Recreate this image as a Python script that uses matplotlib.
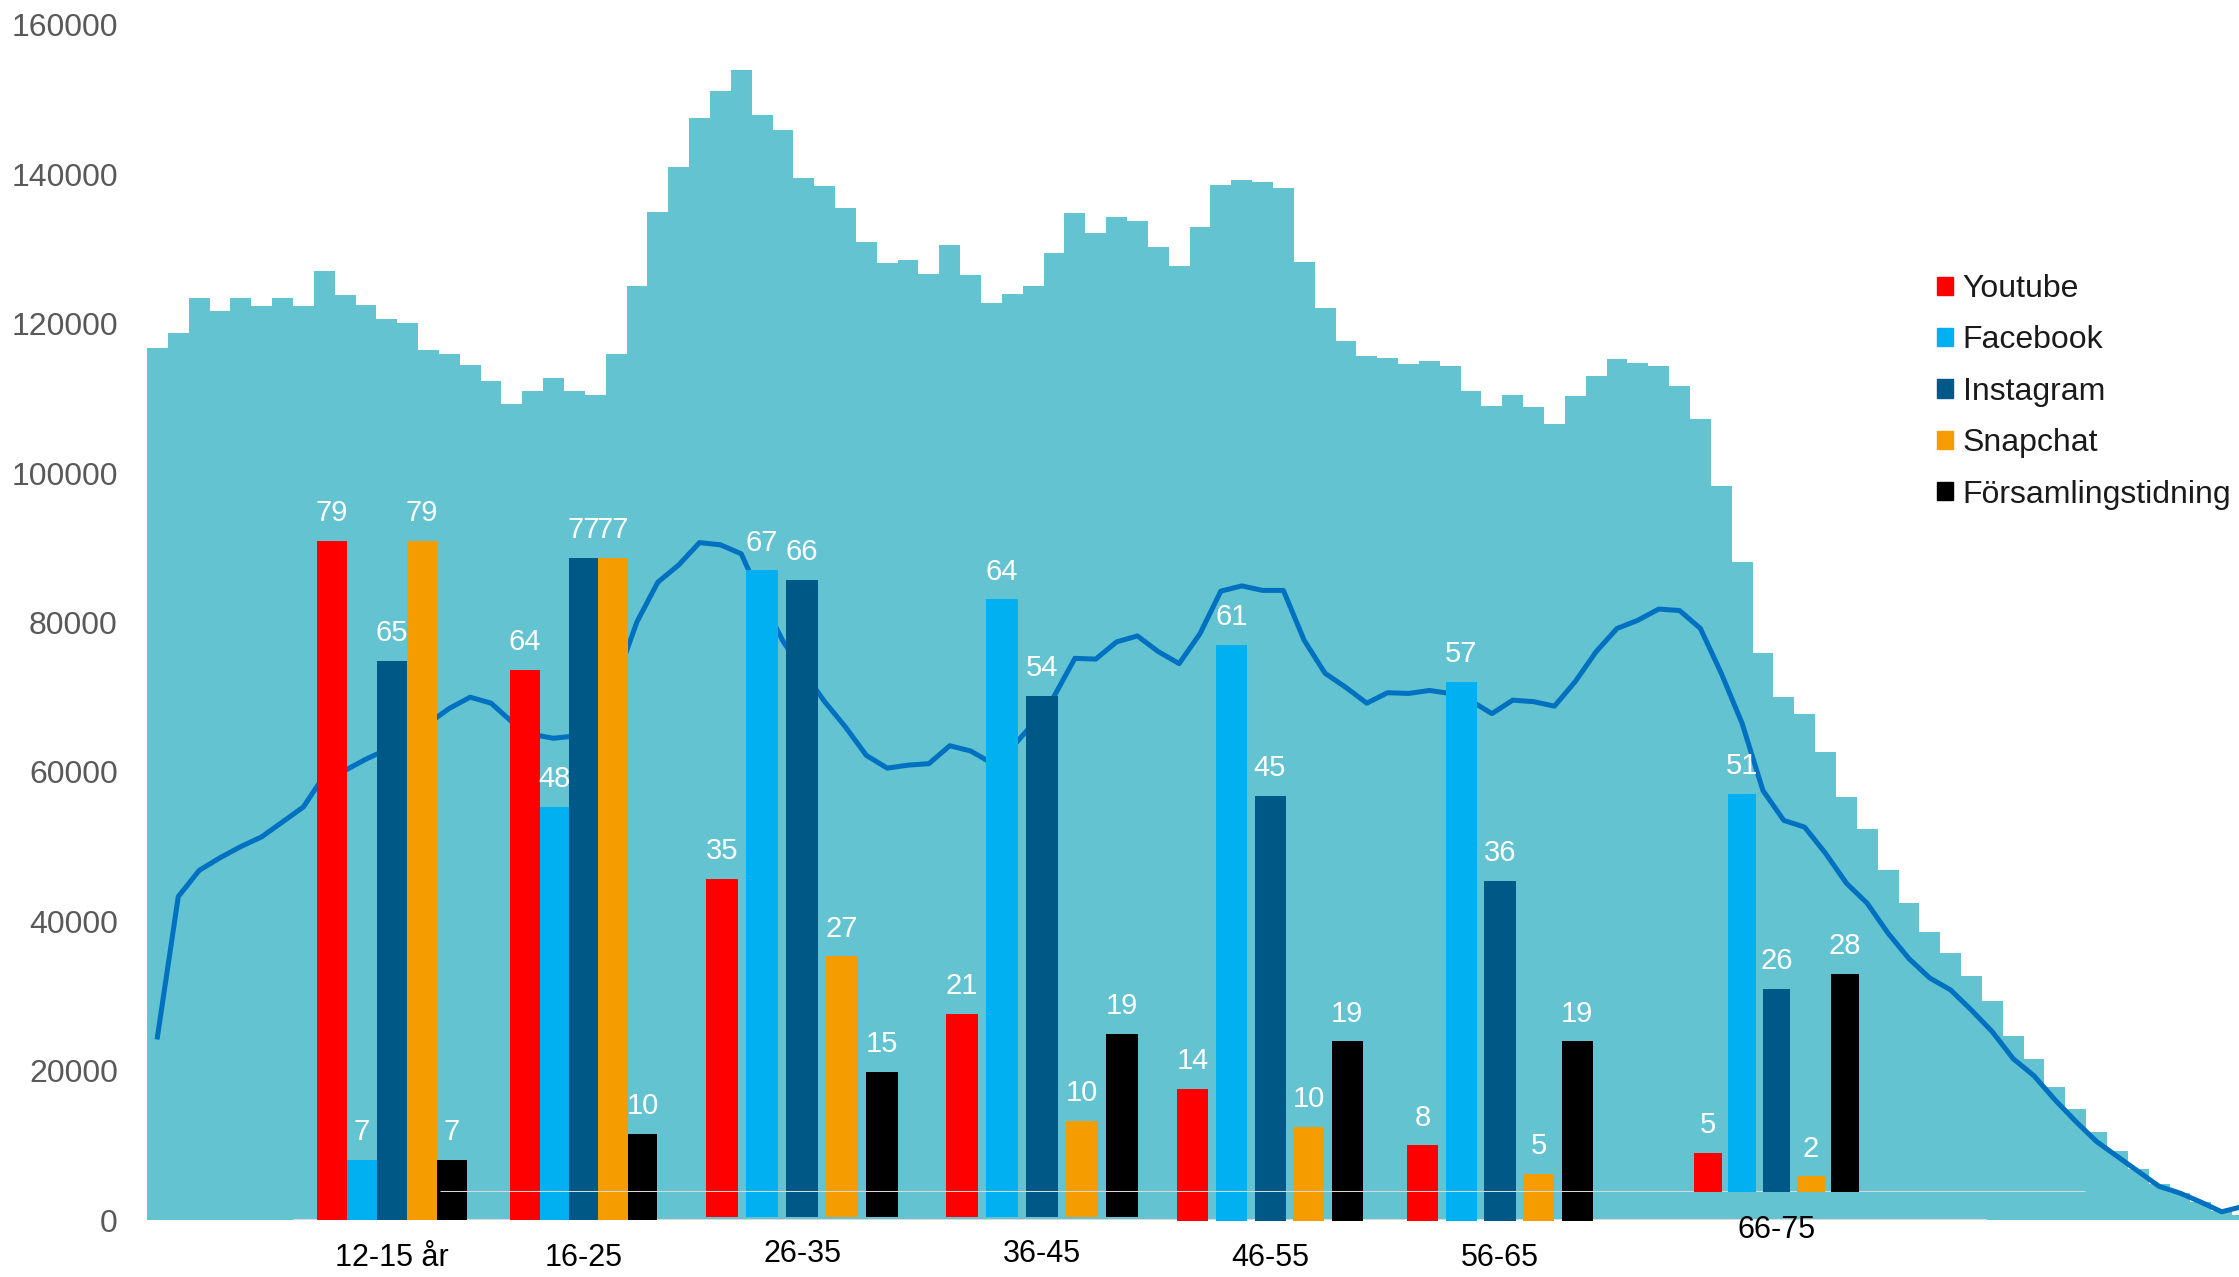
import numpy as np
import matplotlib
matplotlib.use("Agg")
import matplotlib.pyplot as plt
from matplotlib.patches import Patch

plt.rcParams['font.family'] = ['Liberation Sans', 'DejaVu Sans']

# population per age (0-100) - background area
ages = np.arange(0, 101)
population = [
    116800, 118700, 123500, 121700, 123500, 122400, 123500, 122400, 127000, 123800,
    122500, 120700, 120100, 116500, 116000, 114500, 112300, 109300, 111000, 112700,
    111000, 110500, 116000, 125000, 135000, 141000, 147500, 151200, 154000, 148000,
    146000, 139500, 138500, 135500, 131000, 128200, 128500, 126600, 130500, 126500,
    122800, 124000, 125000, 129500, 134800, 132200, 134300, 133700, 130300, 127700,
    132900, 138600, 139300, 139000, 138200, 128300, 122100, 117700, 115700, 115400,
    114600, 115000, 114400, 111000, 109000, 110500, 108900, 106600, 110300, 113000,
    115300, 114800, 114300, 111600, 107200, 98300, 88100, 75900, 70000, 67800,
    62600, 56700, 52300, 46900, 42400, 38600, 35800, 32700, 29300, 24600,
    21600, 17800, 14800, 11800, 9300, 6800, 4800, 3650, 2400, 1200,
    700,
]
# second series per age - line
line_vals = [
    24500, 43300, 46800, 48500, 50000, 51300, 53300, 55300, 59500, 60200,
    61700, 63000, 64500, 66500, 68500, 70000, 69200, 66700, 65000, 64500,
    64800, 68000, 72300, 80100, 85400, 87700, 90700, 90400, 89200, 83000,
    77500, 73300, 69400, 66000, 62200, 60500, 60900, 61100, 63500, 62800,
    61200, 63300, 66500, 70100, 75200, 75100, 77400, 78200, 76100, 74500,
    78500, 84200, 84900, 84300, 84300, 77600, 73200, 71300, 69200, 70600,
    70500, 70900, 70500, 69500, 67800, 69600, 69400, 68800, 72100, 76100,
    79200, 80300, 81800, 81600, 79200, 73200, 66500, 57500, 53500, 52600,
    49100, 45100, 42400, 38400, 35000, 32400, 30800, 28100, 25200, 21600,
    19300, 16100, 13200, 10500, 8500, 6500, 4500, 3600, 2400, 1100,
    1800,
]

# survey: share (%) per age group and channel
groups = ["12-15 år", "16-25", "26-35", "36-45", "46-55", "56-65", "66-75"]
series = ["Youtube", "Facebook", "Instagram", "Snapchat", "Församlingstidning"]
youtube = [79, 64, 35, 21, 14, 8, 5]
facebook = [7, 48, 67, 64, 61, 57, 51]
instagram = [65, 77, 66, 54, 45, 36, 26]
snapchat = [79, 77, 27, 10, 10, 5, 2]
forsamling = [7, 10, 15, 19, 19, 19, 28]
colors = ["#FF0000", "#00B0F0", "#005886", "#F49C00", "#000000"]

# layout of each pasted group (age-axis centre, pitch, bar width, baseline px, px per %)
g_center = [11.23, 20.44, 30.92, 42.43, 53.36, 64.39, 77.65]
g_pitch = [1.44, 1.41, 1.92, 1.92, 1.85, 1.85, 1.645]
g_width = [1.44, 1.41, 1.535, 1.535, 1.49, 1.49, 1.34]
g_base = [1220, 1220, 1217, 1217, 1221, 1221, 1192]
g_scale = [8.6, 8.6, 9.65, 9.65, 9.45, 9.45, 7.8]

W, H = 2239, 1277
fig = plt.figure(figsize=(W / 100, H / 100), dpi=100)
left, bottom = 147 / W, (H - 1220) / H
ax = fig.add_axes([left, bottom, 1 - left, 1195 / H])

ax.bar(ages, population, width=1.0, color="#64C3D0", linewidth=0)
ax.plot(ages, line_vals, color="#0070C0", lw=3.6)
ax.set_xlim(-0.5, 99.83)
ax.set_ylim(0, 160000)
ax.set_yticks(np.arange(0, 160001, 20000))
ax.tick_params(axis="y", length=0, pad=21, labelsize=23, labelcolor="#595959")
ax.set_xticks([])
for s in ax.spines.values():
    s.set_visible(False)

# leftover axis lines of the pasted charts
ax.hlines(0, 6.5, 87.7, color="#d9d9d9", lw=2.2, zorder=1)

values = [youtube, facebook, instagram, snapchat, forsamling]
for g, name in enumerate(groups):
    hpx = 100 * g_scale[g]
    axg = fig.add_axes([left, (H - g_base[g]) / H, 1 - left, hpx / H], sharex=ax)
    axg.set_ylim(0, 100)
    axg.axis("off")
    axg.patch.set_alpha(0)
    for k in range(len(series)):
        x = g_center[g] + (k - 2) * g_pitch[g]
        bc = axg.bar(x, values[k][g], width=g_width[g], color=colors[k], linewidth=0)
        axg.bar_label(bc, padding=10, color="white", fontsize=21)
    axg.annotate(name, xy=(g_center[g], 0), xytext=(0, -27), textcoords="offset points",
                 ha="center", va="center", fontsize=22, color="black", annotation_clip=False)
    if g == len(groups) - 1:
        axg.hlines(0, 13.55, 92.45, color="#d9d9d9", lw=2.2, zorder=0)

handles = [Patch(color=c) for c in colors]
fig.legend(handles, series, loc="upper left", bbox_to_anchor=(1937 / W, (H - 274) / H),
           frameon=False, fontsize=23, handlelength=0.5, handleheight=0.5,
           handletextpad=0.3, labelspacing=0.67, borderaxespad=0, borderpad=0,
           labelcolor="#1a1a1a")

fig.savefig("out.png", dpi=100)
